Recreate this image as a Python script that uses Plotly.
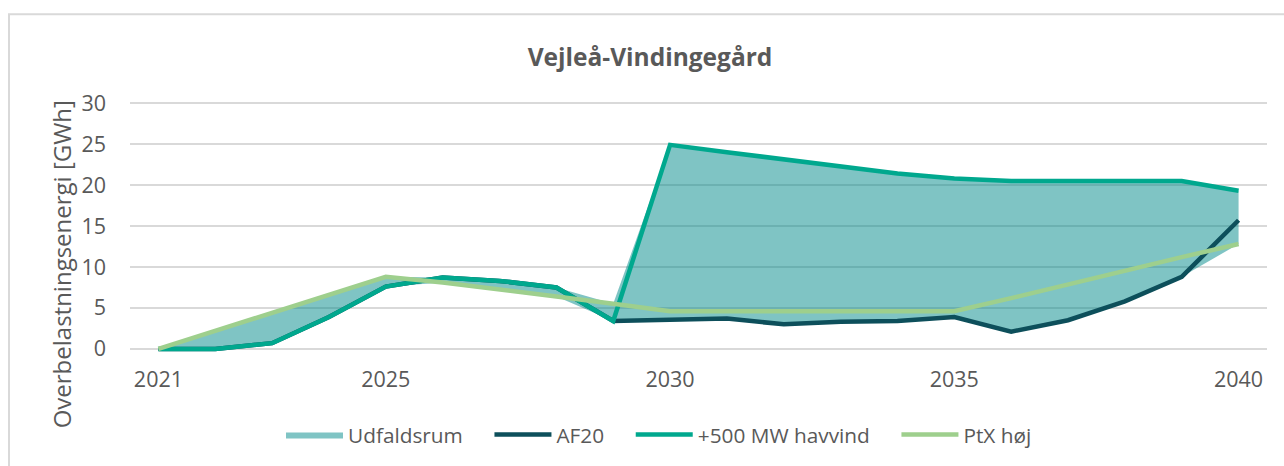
import numpy as np
import plotly.graph_objects as go

# Annual overload energy (GWh) for the Vejleå-Vindingegård line
years = list(range(2021, 2041))
af20 = [0, 0, 0.7, 3.9, 7.6, 8.7, 8.3, 7.5, 3.4, 3.5,
        3.7, 3.0, 3.3, 3.4, 3.9, 2.1, 3.5, 5.8, 8.8, 15.7]
havvind = [0, 0, 0.7, 3.9, 7.6, 8.7, 8.3, 7.5, 3.4, 24.9,
           24.0, 23.1, 22.2, 21.4, 20.8, 20.5, 20.5, 20.5, 20.5, 19.3]
ptx = [0, 2.2, 4.4, 6.6, 8.8, 8.1, 7.3, 6.4, 5.5, 4.6,
       4.6, 4.6, 4.6, 4.6, 4.6, 6.2, 7.9, 9.5, 11.2, 12.8]
x_ticks = [2021, 2025, 2030, 2035, 2040]
y_ticks = [0, 5, 10, 15, 20, 25, 30]

# Outcome range: envelope spanned by the three scenarios
stack = np.array([af20, havvind, ptx])
lower = stack.min(axis=0)
upper = stack.max(axis=0)

TXT = "#595959"
FONT = "Open Sans"
W, H = 1284, 466
L, R, T, B = 130, 17, 99, 112
PAD = "\u00a0" * 4  # extra room after each legend entry

fig = go.Figure()
fig.add_trace(go.Scatter(x=years, y=lower, mode="lines", line=dict(width=0),
                         showlegend=False, hoverinfo="skip"))
fig.add_trace(go.Scatter(x=years, y=upper, mode="lines", line=dict(width=0),
                         fill="tonexty", fillcolor="rgba(0,137,137,0.5)",
                         name="Udfaldsrum" + PAD))
fig.add_trace(go.Scatter(x=years, y=af20, mode="lines", name="AF20" + PAD,
                         line=dict(color="#0D4F5B", width=4.5)))
fig.add_trace(go.Scatter(x=years, y=havvind, mode="lines",
                         name="+500 MW havvind" + PAD,
                         line=dict(color="#00A88E", width=4.5)))
fig.add_trace(go.Scatter(x=years, y=ptx, mode="lines", name="PtX høj",
                         line=dict(color="#9ECF8D", width=4.5)))

pw, ph = W - L - R, H - T - B
def px_x(p):
    return (p - L) / pw
def px_y(p):
    return (H - B - p) / ph

fig.update_layout(
    width=W, height=H,
    margin=dict(l=L, r=R, t=T, b=B, pad=0),
    paper_bgcolor="white", plot_bgcolor="white",
    font=dict(family=FONT, color=TXT, size=21),
    title=dict(text="<b>Vejleå-Vindingegård</b>", x=650 / W, xanchor="center",
               y=1 - 57 / H, yanchor="middle",
               font=dict(family=FONT, size=24.5, color=TXT)),
    xaxis=dict(range=[2020.5, 2040.5], tickvals=x_ticks, showgrid=False,
               zeroline=False, showline=False, ticks="", ticklabelstandoff=11,
               tickfont=dict(size=21.5, color=TXT)),
    yaxis=dict(range=[-0.5, 30.5], tickvals=y_ticks, showgrid=True,
               gridcolor="#D9D9D9", gridwidth=1.5, zeroline=False,
               showline=False, ticks="", ticklabelstandoff=23,
               tickfont=dict(size=21.5, color=TXT)),
    annotations=[dict(text="Overbelastningsenergi [GWh]", textangle=-90,
                      xref="paper", yref="paper", x=px_x(61), y=px_y(265),
                      xanchor="center", yanchor="middle", showarrow=False,
                      font=dict(size=24, color=TXT))],
    legend=dict(orientation="h", x=px_x(281), xanchor="left",
                y=px_y(435), yanchor="middle",
                font=dict(size=20.8, color=TXT), traceorder="normal",
                itemwidth=57, bgcolor="rgba(0,0,0,0)"),
    showlegend=True,
    shapes=[dict(type="rect", xref="paper", yref="paper",
                 x0=px_x(9), x1=px_x(W + 10), y0=px_y(H + 10), y1=px_y(14),
                 line=dict(color="#D9D9D9", width=2), layer="below")],
)

fig.write_html("out.html")
